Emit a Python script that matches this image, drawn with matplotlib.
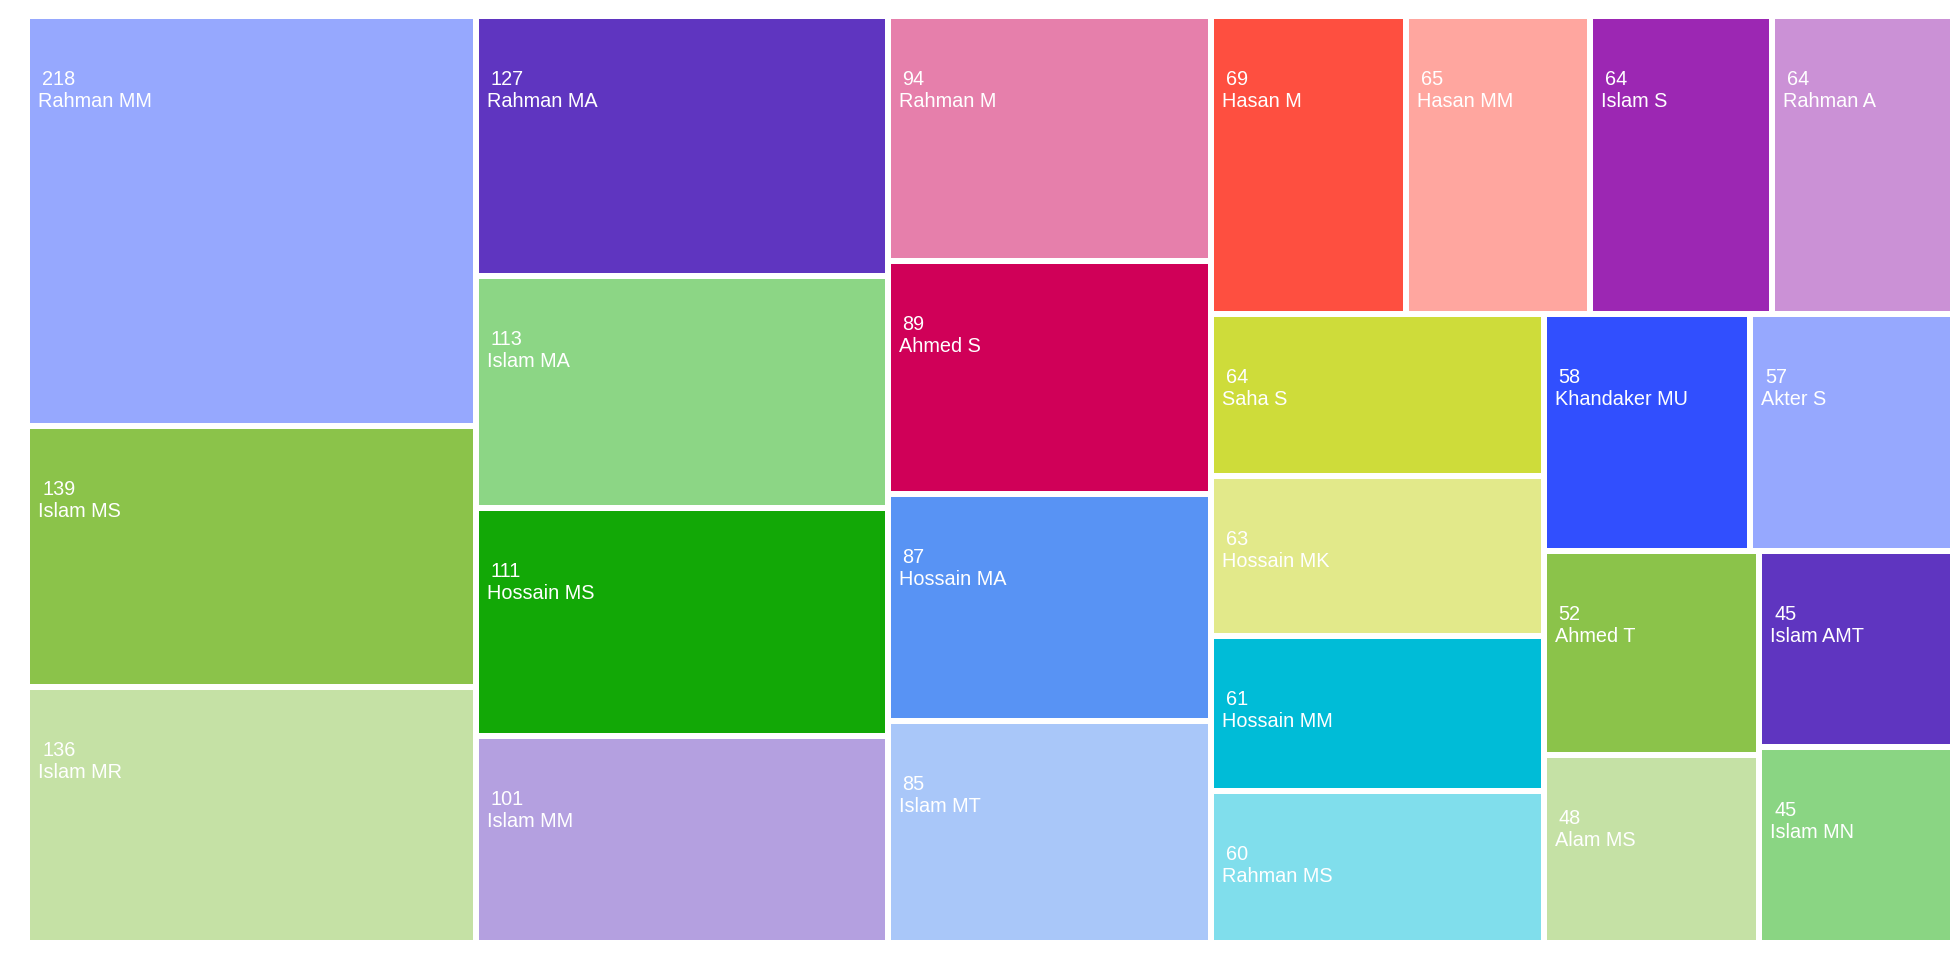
import math
import matplotlib
matplotlib.use("Agg")
import matplotlib.pyplot as plt
from matplotlib.patches import Rectangle

names = ["Rahman MM", "Islam MS", "Islam MR", "Rahman MA", "Islam MA", "Hossain MS",
         "Islam MM", "Rahman M", "Ahmed S", "Hossain MA", "Islam MT", "Hasan M",
         "Hasan MM", "Islam S", "Rahman A", "Saha S", "Hossain MK", "Hossain MM",
         "Rahman MS", "Khandaker MU", "Akter S", "Ahmed T", "Alam MS", "Islam AMT",
         "Islam MN"]
values = [218, 139, 136, 127, 113, 111, 101, 94, 89, 87, 85, 69, 65, 64, 64, 64,
          63, 61, 60, 58, 57, 52, 48, 45, 45]
colors = ["#96A8FE", "#8BC34A", "#C5E1A5", "#5F35C0", "#8CD685", "#12A806",
          "#B4A0E0", "#E67FAB", "#D00058", "#5893F4", "#A9C7F9", "#FE4F40",
          "#FFA69F", "#9C27B3", "#CB91D6", "#CEDC3A", "#E2E98A", "#00BCD7",
          "#80DEEC", "#314FFE", "#96A8FE", "#8BC34A", "#C5E1A5", "#5F35C0",
          "#8AD583"]

W, H = 1960, 960
X0, Y0, X1, Y1 = 30, 19, 1950, 940
GAP = 6
PHI = (1 + math.sqrt(5)) / 2


def squarify(vals, x0, y0, x1, y1, ratio=PHI):
    """d3-style squarified treemap layout."""
    rects = [None] * len(vals)
    n = len(vals)
    i0 = i1 = 0
    value = float(sum(vals))
    while i0 < n:
        dx, dy = x1 - x0, y1 - y0
        sumv = vals[i1]
        i1 += 1
        minv = maxv = sumv
        alpha = max(dy / dx, dx / dy) / (value * ratio)
        beta = sumv * sumv * alpha
        min_ratio = max(maxv / beta, beta / minv)
        while i1 < n:
            nv = vals[i1]
            sumv += nv
            minv = min(minv, nv)
            maxv = max(maxv, nv)
            beta = sumv * sumv * alpha
            new_ratio = max(maxv / beta, beta / minv)
            if new_ratio > min_ratio:
                sumv -= nv
                break
            min_ratio = new_ratio
            i1 += 1
        row = list(range(i0, i1))
        if dx < dy:  # dice: horizontal row at top
            ny = y0 + dy * sumv / value if value else y1
            cx = x0
            for j in row:
                w = dx * vals[j] / sumv
                rects[j] = (cx, y0, cx + w, ny)
                cx += w
            y0 = ny
        else:  # slice: vertical column at left
            nx = x0 + dx * sumv / value if value else x1
            cy = y0
            for j in row:
                h = dy * vals[j] / sumv
                rects[j] = (x0, cy, nx, cy + h)
                cy += h
            x0 = nx
        value -= sumv
        i0 = i1
    return rects


p = GAP / 2
rects = squarify(values, X0 - p, Y0 - p, X1 + p, Y1 + p)

fig = plt.figure(figsize=(W / 100, H / 100), dpi=100)
ax = fig.add_axes([0, 0, 1, 1])
ax.set_xlim(0, W)
ax.set_ylim(H, 0)
ax.axis("off")

for name, val, col, (a, b, c, d) in zip(names, values, colors, rects):
    a, b, c, d = a + p, b + p, c - p, d - p
    ax.add_patch(Rectangle((a, b), c - a, d - b, facecolor=col, edgecolor="none"))
    ax.text(a + 12, b + 66, str(val), color="white", fontsize=14.3,
            family="Liberation Sans", va="baseline", ha="left")
    ax.text(a + 8, b + 88, name, color="white", fontsize=14.3,
            family="Liberation Sans", va="baseline", ha="left")

fig.savefig("out.png", dpi=100, facecolor="white")
